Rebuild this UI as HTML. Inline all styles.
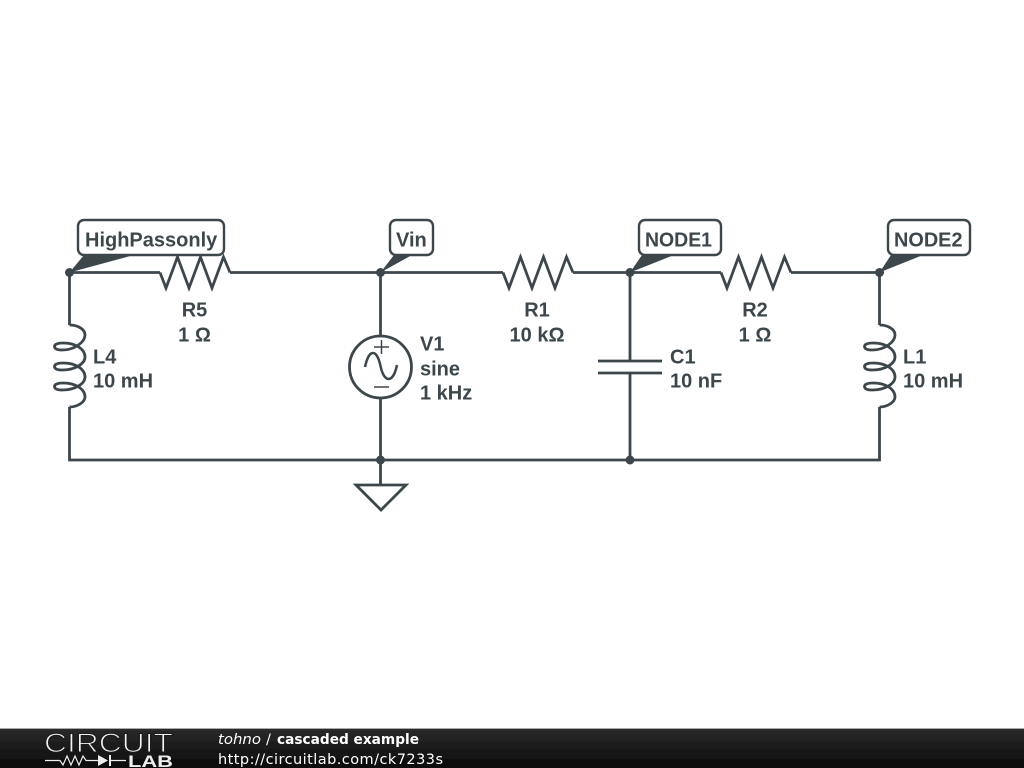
<!DOCTYPE html>
<html><head><meta charset="utf-8"><style>
html,body{margin:0;padding:0;background:#fff;width:1024px;height:768px;overflow:hidden}
svg{display:block}
.w{fill:none;stroke:#3e474c;stroke-width:2.800;stroke-linejoin:miter}
.t{font-family:"Liberation Sans",sans-serif;font-weight:bold;font-size:20px;fill:#3e474c}
.f{font-family:"DejaVu Sans",sans-serif;font-size:14.500px;fill:#fff}
</style></head><body>
<svg width="1024" height="768" viewBox="0 0 1024 768" xmlns="http://www.w3.org/2000/svg">
<defs>
<filter id="soft" x="0" y="0" width="100%" height="100%"><feGaussianBlur stdDeviation="0.350"/></filter>
<linearGradient id="g" x1="0" y1="0" x2="0" y2="1"><stop offset="0" stop-color="#2a2a2a"/><stop offset="1" stop-color="#0a0a0a"/></linearGradient>
<path id="coil" class="w" d="M0 0C8 0 15.500 4 15.500 10C15.500 17 5 25 -7 25C-12 25 -15 24 -15 21.500C-15 19 -11 18 -6 18C6 18 15.500 24 15.500 32C15.500 39 5 45 -7 45C-12 45 -15 44 -15 41.500C-15 39 -11 38 -6 38C6 38 15.500 44 15.500 52C15.500 59 5 65 -7 65C-12 65 -15 64 -15 61.500C-15 59 -11 58 -6 58C6 58 15.500 64 15.500 72C15.500 77 8 82 0 82"/>
<path id="res" class="w" d="M0 0L6 15.500L17.500 -15.500L29 15.500L40.500 -15.500L52 15.500L63.500 -15.500L70 0"/>
</defs>
<rect width="1024" height="768" fill="#fff"/>
<g filter="url(#soft)">
<rect width="1024" height="768" fill="#fff"/>

<!-- wires -->
<path class="w" d="M69.500 272.500H160M230 272.500H503M573 272.500H721M791 272.500H879.500"/>
<path class="w" d="M69.500 272.500V325M69.500 407V460H879.500V407M879.500 272.500V325"/>
<path class="w" d="M380.500 272.500V336M380.500 398V485"/>
<path class="w" d="M630 272.500V361M630 373V460"/>

<!-- resistors -->
<use href="#res" x="160" y="272.500"/>
<use href="#res" x="503" y="272.500"/>
<use href="#res" x="721" y="272.500"/>

<!-- inductors -->
<use href="#coil" x="69.500" y="325"/>
<use href="#coil" x="879.500" y="325"/>

<!-- capacitor -->
<path class="w" d="M598 361H662M598 373H662"/>

<!-- source -->
<circle class="w" cx="380.500" cy="367" r="31"/>
<path fill="none" stroke="#3e474c" stroke-width="2.500" d="M365 367C369 348 377 349 380.500 366C384 383 393 384 397 365"/>
<path fill="none" stroke="#3e474c" stroke-width="1.500" d="M374 347H389M381.500 340V354M374 387H389"/>

<!-- ground -->
<path class="w" d="M356 485H406L381 510Z"/>

<!-- junctions -->
<g fill="#3e474c">
<circle cx="69.500" cy="272.500" r="4.500"/><circle cx="380.500" cy="272.500" r="4.500"/>
<circle cx="630" cy="272.500" r="4.500"/><circle cx="879.500" cy="272.500" r="4.500"/>
<circle cx="380.500" cy="460" r="4.500"/><circle cx="630" cy="460" r="4.500"/>
<path d="M69.500 272.500L84 255H134Z"/>
<path d="M380.500 272.500L394 255H412Z"/>
<path d="M630 272.500L642 255H674Z"/>
<path d="M879.500 272.500L891 255H923Z"/>
</g>

<!-- node labels -->
<g fill="#fff" stroke="#3e474c" stroke-width="2.400">
<rect x="78" y="220" width="146" height="35" rx="6"/>
<rect x="390" y="220" width="43" height="35" rx="6"/>
<rect x="639" y="220" width="82" height="35" rx="6"/>
<rect x="888" y="220" width="82" height="35" rx="6"/>
</g>
<g class="t">
<text x="85" y="246.700">HighPassonly</text>
<text x="396" y="246.700">Vin</text>
<text x="645" y="246.700" textLength="67" lengthAdjust="spacingAndGlyphs">NODE1</text>
<text x="894" y="246.700" textLength="68.500" lengthAdjust="spacingAndGlyphs">NODE2</text>
<text x="194.500" y="316.700" text-anchor="middle">R5</text>
<text x="194.500" y="341.700" text-anchor="middle">1 Ω</text>
<text x="537" y="316.700" text-anchor="middle">R1</text>
<text x="537" y="341.700" text-anchor="middle">10 kΩ</text>
<text x="755" y="316.700" text-anchor="middle">R2</text>
<text x="755" y="341.700" text-anchor="middle">1 Ω</text>
<text x="93" y="363.700">L4</text>
<text x="93" y="387.700">10 mH</text>
<text x="903" y="363.700">L1</text>
<text x="903" y="387.700">10 mH</text>
<text x="420" y="350.700">V1</text>
<text x="420" y="375.700">sine</text>
<text x="420" y="399.700">1 kHz</text>
<text x="670" y="363.700">C1</text>
<text x="670" y="387.700">10 nF</text>
</g>

<!-- footer -->
<rect x="0" y="729" width="1024" height="39" fill="url(#g)"/>
<rect x="0" y="728" width="1024" height="1" fill="#aaa"/>
<text x="44" y="752" font-family="Liberation Sans,sans-serif" font-size="27" fill="#f4f4f4" stroke="#1c1c1c" stroke-width="1.100" textLength="129" lengthAdjust="spacingAndGlyphs">CIRCUIT</text>
<path fill="none" stroke="#eee" stroke-width="1.200" d="M45 760.500H60L63 765L67 756L71 765L75 756L79 765L83 756L86 760.500H98M110 760.500H126"/>
<path fill="#eee" d="M98 755L108 760.500L98 766ZM109 755H111V766H109Z"/>
<text x="128" y="767" font-family="Liberation Sans,sans-serif" font-weight="bold" font-size="17" fill="#eee" textLength="45" lengthAdjust="spacingAndGlyphs">LAB</text>
<text class="f" x="218" y="744" font-style="italic" textLength="43" lengthAdjust="spacingAndGlyphs">tohno</text>
<text class="f" x="266" y="744">/</text>
<text class="f" x="277" y="744" font-weight="bold" textLength="142" lengthAdjust="spacingAndGlyphs">cascaded example</text>
<text class="f" x="218" y="764" textLength="225">http://circuitlab.com/ck7233s</text>
</g>
</svg>
</body></html>
